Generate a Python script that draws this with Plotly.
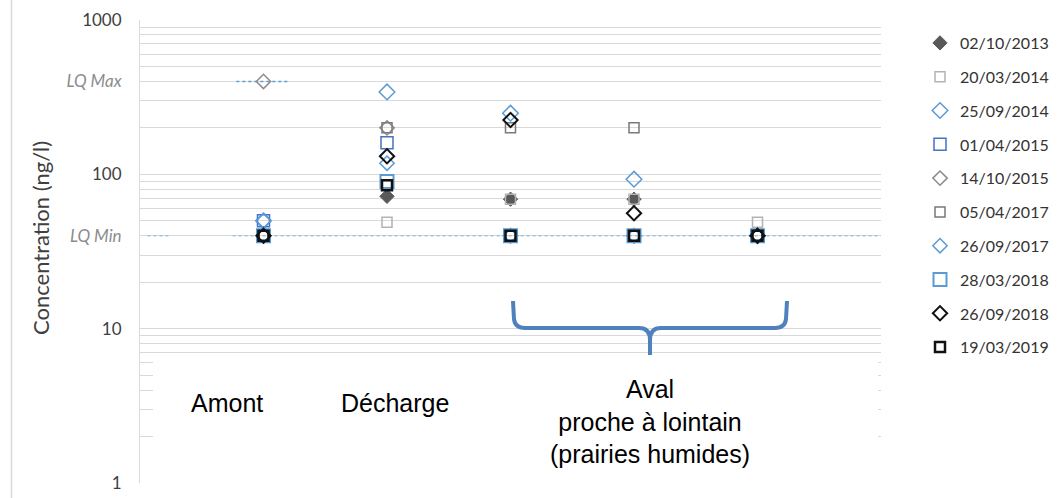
import plotly.graph_objects as go

# ---------------- data ----------------
sites = ["Amont", "Décharge", "Aval 1", "Aval 2", "Aval 3"]
site_pos = [1, 2, 3, 4, 5]

LQ_MIN = 40
LQ_MAX = 400

dates = ["02/10/2013", "20/03/2014", "25/09/2014", "01/04/2015", "14/10/2015",
         "05/04/2017", "26/09/2017", "28/03/2018", "26/09/2018", "19/03/2019"]

v_20131002 = [None, 72, 69, 69, None]
v_20140320 = [40, 49, 69, 69, 49]
v_20140925 = [50, 342, 249, 93, 40]
v_20150401 = [50, 160, 40, 40, 40]
v_20151014 = [400, 200, 40, 40, 40]
v_20170405 = [40, 200, 200, 200, 40]
v_20170926 = [50, 118, 40, 40, 40]
v_20180328 = [40, 90, 40, 40, 40]
v_20180926 = [40, 131, 225, 56, 40]
v_20190319 = [40, 85, 40, 40, 40]

series_values = [v_20131002, v_20140320, v_20140925, v_20150401, v_20151014,
                 v_20170405, v_20170926, v_20180328, v_20180926, v_20190319]

# ---------------- styles ----------------
styles = [
    dict(symbol="diamond", color="#595959", size=11, lw=1),
    dict(symbol="square-open", color="#b3b3b3", size=10, lw=1.5),
    dict(symbol="diamond-open", color="#5b9bd5", size=12, lw=1.5),
    dict(symbol="square-open", color="#4472c4", size=12, lw=1.5),
    dict(symbol="diamond-open", color="#8c8c8c", size=11, lw=1.5),
    dict(symbol="square-open", color="#7a7a7a", size=10, lw=1.5),
    dict(symbol="diamond-open", color="#5b9bd5", size=11, lw=1.5),
    dict(symbol="square-open", color="#5b9bd5", size=13, lw=2),
    dict(symbol="diamond-open", color="#111111", size=11, lw=2),
    dict(symbol="square-open", color="#111111", size=10, lw=2.5),
]

fig = go.Figure()

# LQ reference dotted lines
fig.add_trace(go.Scatter(x=[0.06, 0.24], y=[LQ_MIN, LQ_MIN], mode="lines",
                         line=dict(color="#9dc3e6", width=1.5, dash="dot"),
                         showlegend=False, hoverinfo="skip"))
fig.add_trace(go.Scatter(x=[0.75, 6.0], y=[LQ_MIN, LQ_MIN], mode="lines",
                         line=dict(color="#9dc3e6", width=1.5, dash="dot"),
                         showlegend=False, hoverinfo="skip"))
fig.add_trace(go.Scatter(x=[0.78, 1.2], y=[LQ_MAX, LQ_MAX], mode="lines",
                         line=dict(color="#5b9bd5", width=1.5, dash="dot"),
                         showlegend=False, hoverinfo="skip"))

for i, (name, vals, st) in enumerate(zip(dates, series_values, styles)):
    fig.add_trace(go.Scatter(
        x=site_pos, y=vals, mode="markers", name=name,
        legendgroup=f"g{i}",
        marker=dict(symbol=st["symbol"], color=st["color"], size=st["size"],
                    line=dict(color=st["color"], width=st["lw"])),
    ))

# ---------------- y ticks ----------------
tickvals = []
ticktext = []
for k in [1, 10, 100]:
    for m in range(1, 10):
        v = m * k
        tickvals.append(v)
        if m == 1:
            ticktext.append(str(v))
        elif v == LQ_MIN:
            ticktext.append('<i><span style="color:#8c8c8c">LQ Min</span></i>')
        elif v == LQ_MAX:
            ticktext.append('<i><span style="color:#8c8c8c">LQ Max</span></i>')
        else:
            ticktext.append("")
tickvals.append(1000)
ticktext.append("1000")

W, H = 1057, 498
L, R, T, B = 140, 881, 20, 483


def px(x):
    return (x - L) / (R - L)


def py(y):
    return 1 - (y - T) / (B - T)


# brace path in paper coords
brace_pts = [
    ("M", 513, 301), ("L", 514, 319), ("Q", 515, 328, 525, 328), ("L", 639, 328),
    ("Q", 650, 328, 650, 340), ("L", 650, 355), ("M", 650, 340),
    ("Q", 650, 328, 661, 328), ("L", 775, 328), ("Q", 785, 328, 786, 319), ("L", 787, 301),
]
parts = []
for p in brace_pts:
    cmd = p[0]
    coords = p[1:]
    s = cmd
    for j in range(0, len(coords), 2):
        s += f" {px(coords[j]):.5f},{py(coords[j+1]):.5f}"
    parts.append(s)
brace_path = " ".join(parts)

shapes = [
    # white box covering lower area
    dict(type="rect", xref="paper", yref="paper", x0=px(153), x1=px(878),
         y0=py(480), y1=py(355), fillcolor="white", line=dict(width=0), layer="above"),
    # brace
    dict(type="path", xref="paper", yref="paper", path=brace_path,
         line=dict(color="#4f81bd", width=4), layer="above"),
    # chart border at left
    dict(type="line", xref="paper", yref="paper", x0=px(11.5), x1=px(11.5),
         y0=py(510), y1=py(-10), line=dict(color="#d9d9d9", width=1.5)),
]

annotations = [
    dict(text="Amont", x=px(227), y=py(403), xref="paper", yref="paper",
         showarrow=False, font=dict(family="Liberation Sans", size=25, color="black"),
         xanchor="center", yanchor="middle"),
    dict(text="Décharge", x=px(395), y=py(403), xref="paper", yref="paper",
         showarrow=False, font=dict(family="Liberation Sans", size=25, color="black"),
         xanchor="center", yanchor="middle"),
    dict(text="Aval<br>proche à lointain<br>(prairies humides)", x=px(650), y=py(421),
         xref="paper", yref="paper", showarrow=False,
         font=dict(family="Liberation Sans", size=25, color="black"),
         xanchor="center", yanchor="middle", align="center"),
    dict(text="Concentration (ng/l)", x=px(40), y=py(238), xref="paper", yref="paper",
         showarrow=False, textangle=-90,
         font=dict(family="Lato", size=22, color="#404040"),
         xanchor="center", yanchor="middle"),
]

fig.update_layout(
    width=W, height=H,
    margin=dict(l=L, r=W - R, t=T, b=H - B, pad=0, autoexpand=False),
    paper_bgcolor="white", plot_bgcolor="white",
    font=dict(family="Lato", size=17, color="#404040"),
    showlegend=True,
    legend=dict(x=px(920), y=py(26), xanchor="left", yanchor="top",
                font=dict(family="Lato", size=16, color="#333333"),
                tracegroupgap=10, bgcolor="rgba(0,0,0,0)", borderwidth=0),
    shapes=shapes,
    annotations=annotations,
    xaxis=dict(range=[0, 6], showgrid=False, zeroline=False, showticklabels=False,
               showline=False, ticks="", fixedrange=True, automargin=False),
    yaxis=dict(type="log", range=[0, 3], tickmode="array", tickvals=tickvals,
               ticktext=ticktext, showgrid=True, gridcolor="#d9d9d9", gridwidth=1,
               showline=True, linecolor="#d9d9d9", linewidth=1, zeroline=False,
               ticks="", ticklabelstandoff=14, automargin=False,
               tickfont=dict(family="Lato", size=17, color="#404040")),
)

fig.write_html("out.html",
               config={"displayModeBar": False},
               post_script="document.body.style.margin='0';document.body.style.overflow='hidden';")
